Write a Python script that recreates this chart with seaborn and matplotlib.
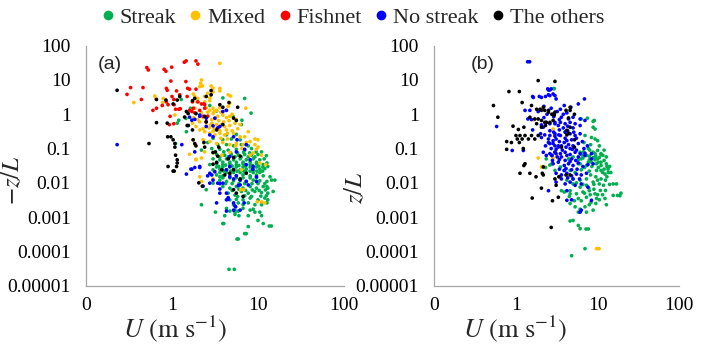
import matplotlib
matplotlib.use("Agg")
import matplotlib.pyplot as plt
import pandas as pd
import seaborn as sns
from matplotlib.lines import Line2D
from matplotlib.ticker import NullLocator

categories = ["Streak", "Mixed", "Fishnet", "No streak", "The others"]
colors = ["#00B050", "#FFC000", "#FF0000", "#0000FF", "#000000"]
x_ticks = [0.1, 1, 10, 100]
x_tick_labels = ["0", "1", "10", "100"]
y_ticks = [1e-5, 1e-4, 1e-3, 1e-2, 1e-1, 1, 10, 100]
y_tick_labels = ["0.00001", "0.0001", "0.001", "0.01", "0.1", "1", "10", "100"]

# ---- panel (a): (U [m/s], -z/L) ----
a_streak = [
    (4.3, 0.25), (5.6, 0.26), (3.9, 0.18), (4.9, 0.19), (6.2, 0.18),
    (3.4, 0.13), (4.3, 0.13), (5.2, 0.12), (6.4, 0.13), (7.7, 0.12),
    (3.6, 0.095), (4.5, 0.09), (5.6, 0.095), (7.0, 0.09), (8.4, 0.1),
    (3.3, 0.067), (4.1, 0.064), (4.9, 0.067), (5.9, 0.064), (7.0, 0.067), (8.4, 0.064), (10, 0.067),
    (3.6, 0.057), (4.5, 0.057), (5.4, 0.057), (6.4, 0.057), (7.7, 0.057), (9.2, 0.057),
    (3.0, 0.05), (3.6, 0.047), (4.3, 0.05), (5.2, 0.047), (6.2, 0.05), (7.3, 0.047), (8.8, 0.05), (10.5, 0.047),
    (3.3, 0.04), (3.9, 0.04), (4.7, 0.04), (5.6, 0.04), (6.7, 0.04), (8.1, 0.04), (9.6, 0.04),
    (2.75, 0.034), (3.3, 0.036), (3.9, 0.034), (4.7, 0.036), (5.6, 0.034), (6.7, 0.036), (8.1, 0.034),
    (9.6, 0.036), (11.5, 0.034),
    (3.3, 0.029), (3.9, 0.029), (4.7, 0.029), (5.6, 0.029), (6.7, 0.029), (8.1, 0.029), (9.6, 0.029), (11.4, 0.029),
    (3.0, 0.024), (3.6, 0.025), (4.3, 0.024), (5.2, 0.025), (6.2, 0.024), (7.3, 0.025), (8.8, 0.024),
    (10.5, 0.025), (12, 0.026),
    (3.6, 0.02), (4.3, 0.02), (5.2, 0.02), (6.2, 0.02), (7.3, 0.02), (8.8, 0.02), (10.5, 0.02),
    (3.3, 0.017), (3.9, 0.016), (4.7, 0.017), (5.6, 0.016), (6.7, 0.017), (8.1, 0.016), (9.6, 0.017), (11.5, 0.016),
    (3.9, 0.014), (4.7, 0.014), (5.6, 0.014), (6.7, 0.014), (8.1, 0.014), (9.6, 0.014),
    (3.6, 0.012), (4.3, 0.011), (5.2, 0.0115), (6.2, 0.012), (7.3, 0.011), (8.8, 0.012), (10.5, 0.0115), (12.7, 0.011),
    (3.9, 0.0078), (4.7, 0.007), (5.6, 0.0078), (6.7, 0.007), (8.1, 0.0078), (9.6, 0.007), (11.5, 0.0078), (13, 0.007),
    (4.5, 0.005), (5.4, 0.0044), (6.4, 0.0056), (7.7, 0.005), (9.2, 0.0056), (11, 0.0052), (13, 0.005), (15, 0.0056),
    (4.7, 0.0032), (5.6, 0.0033), (6.7, 0.0032), (8.1, 0.0036), (10, 0.0032), (12, 0.0036), (13, 0.0032),
    (5.2, 0.0023), (5.9, 0.0026), (6.7, 0.0023), (7.7, 0.0026), (9.2, 0.0023), (11, 0.0023), (12.7, 0.0026),
    (4.3, 0.0018), (4.7, 0.0015), (5.4, 0.0016), (5.9, 0.0015), (6.7, 0.0018), (8.1, 0.0016), (8.8, 0.0017),
    (4.1, 0.0011), (5.4, 0.0012), (6.0, 0.0011), (7.7, 0.0011), (9.2, 0.0014), (10.5, 0.0014), (11, 0.0011),
    (10, 0.0008), (11.5, 0.00065), (7.7, 0.00053), (13.5, 0.00055), (14.3, 0.00055),
    (7.0, 0.00033), (7.3, 0.00033), (5.7, 0.00023), (5.9, 0.00023), (3.9, 0.00065), (4.0, 0.00065),
    (4.6, 0.00003), (5.3, 0.00003), (2.2, 0.0023), (3.2, 0.0014), (5.4, 0.0014),
    (12.7, 0.038), (13, 0.03), (13.8, 0.015), (14.4, 0.012), (12.7, 0.0078), (15.7, 0.012),
    (3.6, 0.015), (3.0, 0.0098), (2.5, 0.0063),
    (7.0, 2.9), (8.3, 1.08), (3.9, 3.0), (3.3, 1.25), (1.2, 0.67), (1.64, 1.5), (2.75, 1.8), (5.1, 0.9),
    (6.5, 0.67), (6.4, 0.5), (1.28, 2.7), (1.45, 0.76), (1.15, 0.55), (1.1, 0.14), (1.47, 0.31),
    (2.6, 0.15), (3.0, 0.2), (2.2, 0.09), (2.9, 0.1),
    (4.0, 0.08), (4.8, 0.075), (5.8, 0.075), (6.8, 0.078), (8.0, 0.075), (9.5, 0.08),
    (3.5, 0.03), (4.2, 0.033), (5.0, 0.031), (6.0, 0.032), (7.2, 0.031), (8.6, 0.032), (10.2, 0.031),
    (4.0, 0.022), (4.8, 0.022), (5.7, 0.022), (6.8, 0.022), (8.1, 0.022), (9.7, 0.022), (11.3, 0.022),
    (4.2, 0.0095), (5.0, 0.0095), (6.0, 0.0095), (7.0, 0.0095), (8.5, 0.0095), (10, 0.0095), (12, 0.0095),
    (5.0, 0.006), (6.0, 0.0065), (7.2, 0.006), (8.6, 0.0062), (10.3, 0.006), (12.2, 0.0062),
    (5.8, 0.004), (7.0, 0.0042), (8.4, 0.004), (10.8, 0.0041), (12.5, 0.0042),
    (11.8, 0.05), (12.5, 0.062), (11.0, 0.08),
]
a_mixed = [
    (0.36, 2.2), (0.63, 3.4), (0.65, 2.8), (0.78, 2.2), (0.79, 2.9), (1.08, 0.95), (3.6, 30.6),
    (2.2, 10), (2.15, 8.0), (2.1, 6.4), (1.77, 3.9), (1.84, 3.3), (2.0, 2.9), (2.4, 2.3), (2.75, 2.5),
    (3.6, 5.7), (3.6, 4.8), (4.5, 3.7), (4.8, 3.4), (7.2, 1.5), (2.2, 0.011), (2.1, 0.015),
    (11, 0.0028), (12, 0.0026), (8.8, 0.074), (9.6, 0.095), (9.2, 0.19), (10, 0.18), (10.5, 0.038),
    (6.4, 0.024), (6.8, 0.0063), (6.3, 0.0063), (9.8, 0.0028), (12.3, 0.034), (1.6, 0.068), (1.9, 0.049),
    (3.0, 0.013),
    (2.25, 6.7), (2.85, 6.7), (3.0, 5.7), (3.0, 4.5), (2.6, 4.1), (2.4, 3.3), (2.75, 3.0), (4.7, 2.1),
    (4.5, 1.7), (1.95, 2.3), (1.7, 1.3), (1.84, 1.5), (1.9, 1.05), (1.77, 0.8),
    (2.5, 1.55), (2.75, 1.3), (3.0, 1.5), (3.3, 1.3), (3.6, 1.55),
    (3.0, 1.05), (3.4, 0.87), (3.9, 0.95), (4.3, 0.8), (4.7, 0.87),
    (2.5, 0.6), (2.9, 0.55), (3.3, 0.5), (3.8, 0.51), (4.1, 0.44), (4.7, 0.47), (5.4, 0.55), (6.2, 0.5),
    (2.1, 0.35), (2.4, 0.31), (2.75, 0.28), (3.15, 0.25), (3.6, 0.28), (4.1, 0.25), (5.2, 0.28),
    (6.2, 0.22), (7.0, 0.22), (7.7, 0.31),
    (2.3, 0.18), (2.75, 0.16), (3.3, 0.14), (3.9, 0.15), (4.7, 0.13), (5.6, 0.14), (6.7, 0.13),
    (8.1, 0.16), (9.2, 0.13), (10, 0.11),
    (2.4, 0.08), (3.0, 0.074), (3.8, 0.064), (4.7, 0.078), (6.2, 0.06), (8.1, 0.064), (11, 0.064),
    (1.73, 0.55), (1.9, 0.44), (2.1, 0.6), (1.77, 0.18), (1.84, 0.13), (2.2, 0.053), (1.9, 0.047),
    (2.3, 0.8), (2.6, 0.9), (2.9, 0.7), (3.2, 0.75), (3.5, 0.65), (4.0, 0.6), (2.7, 0.4), (3.1, 0.38),
    (3.5, 0.42), (4.3, 0.35), (2.5, 0.45), (3.0, 0.32), (3.7, 0.2), (4.4, 0.19), (5.0, 0.33), (5.8, 0.38),
    (2.2, 1.1), (2.6, 1.15), (3.1, 1.2), (3.7, 1.15), (4.2, 1.3), (5.0, 1.0), (5.6, 0.7), (4.6, 0.65),
    (2.8, 0.48), (3.6, 0.33), (4.4, 0.28), (2.0, 0.7), (2.3, 0.38), (5.5, 0.12), (6.5, 0.1), (7.3, 0.15),
]
a_fishnet = [
    (0.51, 23), (0.53, 19.6), (0.81, 20.5), (0.85, 18), (0.99, 23.6), (1.39, 33), (1.46, 36),
    (1.9, 36), (2.0, 29), (0.33, 6.0), (0.46, 6.0), (0.30, 3.8), (0.44, 2.7), (0.97, 9.3), (1.45, 9),
    (0.86, 5.7), (0.88, 5.0), (1.13, 4.8), (1.52, 5.7), (1.6, 5.4), (1.9, 5.4), (1.23, 3.7), (1.0, 3.3),
    (1.05, 2.7), (0.86, 2.3), (0.9, 1.9), (1.06, 1.9), (0.6, 1.3), (0.66, 1.5), (0.77, 1.8), (1.1, 1.4),
    (1.2, 1.4), (1.25, 1.45), (0.95, 0.87), (0.93, 0.5), (1.6, 1.3), (1.77, 1.5), (1.5, 3.3),
    (1.73, 2.3), (2.0, 2.3), (2.2, 2.0), (2.35, 2.0), (2.4, 1.9), (1.7, 1.2), (1.84, 1.1), (2.1, 1.3),
    (2.3, 0.87), (2.4, 1.5), (2.6, 0.87), (2.5, 0.6), (1.05, 0.53),
]
a_nostreak = [
    (0.23, 0.13), (1.3, 0.13), (1.47, 0.018), (1.66, 0.025), (1.84, 0.028), (2.1, 0.028), (2.6, 0.016),
    (2.75, 0.019), (3.0, 0.012), (3.6, 0.0095), (3.6, 0.0066), (4.3, 0.005), (4.5, 0.0037), (3.3, 0.0026),
    (4.3, 0.0032), (5.2, 0.0026), (5.5, 0.002), (5.2, 0.0016), (4.7, 0.015), (5.2, 0.013), (5.6, 0.016),
    (6.2, 0.012), (7.3, 0.011), (7.7, 0.0087), (3.15, 0.021), (4.3, 0.024), (4.7, 0.03), (1.7, 0.67),
    (1.84, 0.71), (2.1, 0.95), (2.5, 0.44), (3.0, 0.46), (3.4, 0.4), (3.9, 1.2), (4.3, 1.3), (5.2, 0.22),
    (5.7, 0.18), (7.3, 0.13), (7.0, 0.095), (8.8, 0.03), (8.7, 0.025), (8.1, 0.047), (9.6, 0.015),
    (9.6, 0.011), (2.3, 0.008), (1.6, 0.82), (1.84, 0.08), (1.7, 0.025), (2.1, 0.03), (2.9, 0.017),
    (2.75, 0.0098), (3.6, 0.005), (3.4, 0.0098), (3.9, 0.0098), (4.5, 0.0033), (5.4, 0.0021),
    (6.2, 0.0016), (4.3, 0.0015), (6.9, 0.0026), (6.2, 0.0087), (5.9, 0.0083), (4.7, 0.058), (5.6, 0.08),
    (7.3, 0.034), (2.1, 0.87), (2.5, 0.77), (3.15, 0.77), (2.75, 0.25), (3.0, 0.22), (3.6, 0.44),
]
a_others = [
    (0.23, 5.0), (0.66, 0.57), (0.54, 0.14), (0.89, 0.22), (0.97, 0.22), (0.9, 0.03), (1.03, 0.022),
    (1.06, 0.022), (1.13, 0.03), (1.03, 0.18), (1.08, 0.14), (1.08, 0.11), (1.1, 0.064), (1.15, 0.047),
    (1.15, 0.038), (1.4, 0.83), (1.5, 0.47), (1.55, 0.47), (1.73, 0.35), (1.76, 0.18), (1.84, 0.14),
    (1.9, 0.12), (2.05, 0.01), (2.25, 0.008), (3.0, 0.035), (3.3, 0.039), (3.4, 0.06), (3.2, 0.08),
    (3.5, 0.11), (3.8, 0.024), (4.1, 0.017), (5.2, 0.0063), (5.6, 0.005), (6.7, 0.004), (6.2, 0.013),
    (7.3, 0.019), (1.15, 2.6), (1.03, 2.0), (1.23, 3.3), (0.85, 2.6), (0.88, 0.55), (0.66, 2.7),
    (1.73, 2.5), (1.84, 2.9), (2.85, 4.9), (2.85, 3.7), (2.5, 3.3), (3.6, 1.9), (3.9, 1.6), (4.6, 2.2),
    (5.8, 1.6), (5.2, 0.77), (5.6, 0.66), (3.3, 0.35), (3.9, 0.5), (2.4, 0.87), (2.5, 0.6), (1.9, 1.05),
    (1.47, 1.2), (1.54, 1.05), (2.35, 0.15), (2.4, 0.11), (3.0, 0.077), (4.5, 0.05), (5.2, 0.055),
    (6.2, 0.06), (4.7, 0.019), (5.2, 0.024),
]

# ---- panel (b): (U [m/s], z/L) ----
b_streak = [
    (2.9, 5.6), (2.95, 5.6), (6.3, 0.73), (7.5, 0.77), (9.1, 0.66), (9.3, 0.37), (8.8, 0.62), (4.0, 0.31),
    (7.0, 0.24), (8.4, 0.21), (9.3, 0.19), (10, 0.17), (10.5, 0.12), (8.8, 0.42),
    (7.7, 0.1), (8.8, 0.078), (10, 0.088), (11, 0.071), (11.6, 0.063), (7.0, 0.063), (6.3, 0.05),
    (6.1, 0.078), (7.3, 0.063), (9.3, 0.071), (11, 0.067), (12.8, 0.057),
    (6.1, 0.036), (7.3, 0.032), (8.4, 0.04), (9.7, 0.036), (11, 0.032), (12.8, 0.036), (13.4, 0.025),
    (12.3, 0.018), (11, 0.023),
    (3.5, 0.015), (4.2, 0.012), (5.0, 0.013), (6.1, 0.012), (7.3, 0.013), (8.8, 0.0105), (10.5, 0.0093),
    (5.0, 0.0093), (6.1, 0.0075), (7.3, 0.0085),
    (15.5, 0.0093), (17, 0.0093), (15.5, 0.0043), (17.5, 0.0043), (19.3, 0.005), (18.7, 0.0042),
    (12.3, 0.0035), (12.8, 0.0023), (9.7, 0.0035), (10.5, 0.0032),
    (3.9, 0.0054), (4.6, 0.0059), (5.5, 0.0048), (6.6, 0.0054), (7.9, 0.0059), (9.3, 0.0048), (7.3, 0.0038),
    (4.6, 0.0025), (5.3, 0.002), (6.1, 0.0017), (7.0, 0.002), (7.9, 0.0023), (8.8, 0.0016), (7.3, 0.0014),
    (5.8, 0.0014),
    (4.6, 0.00077), (5.0, 0.0008), (5.8, 0.00057), (6.1, 0.00046), (7.2, 0.00045), (7.7, 0.00045),
    (7.0, 0.00012), (4.8, 0.000075),
    (2.35, 0.05), (2.75, 0.036), (3.0, 0.023), (3.5, 0.029), (3.9, 0.023), (3.6, 0.0059), (4.6, 0.0048),
    (5.8, 0.0035),
    (4.6, 0.023), (5.3, 0.02), (6.3, 0.024), (7.9, 0.022), (9.7, 0.023),
    (4.4, 0.05), (5.0, 0.057), (5.8, 0.047), (6.6, 0.053), (7.9, 0.047), (10, 0.05),
    (7.7, 0.04), (9.3, 0.047), (11, 0.04), (5.8, 0.036), (2.3, 0.028), (2.6, 0.033),
    (6.7, 0.08), (8.0, 0.09), (9.5, 0.06), (10.5, 0.055), (12, 0.045), (13, 0.03), (6.9, 0.028),
    (8.5, 0.03), (10.2, 0.028), (11.5, 0.02), (8.2, 0.017), (9.5, 0.015), (11, 0.013), (12.5, 0.012),
    (13.5, 0.02), (14, 0.03), (12, 0.09), (6.8, 0.15), (8.2, 0.13), (5.5, 0.01), (6.6, 0.009),
    (7.8, 0.007), (9.0, 0.0065), (10.8, 0.006), (11.5, 0.0045), (8.3, 0.0027), (9.5, 0.0025),
    (6.3, 0.003), (5.2, 0.003), (4.5, 0.004),
    (6.4, 0.065), (7.9, 0.06), (8.9, 0.055), (10.2, 0.04), (12, 0.025), (14.5, 0.02), (13, 0.015),
    (10, 0.012), (9.0, 0.009), (11.8, 0.0085), (14, 0.009), (8.1, 0.0045), (10, 0.0045), (6.9, 0.005),
    (12.5, 0.006),
]
b_mixed = [
    (1.67, 0.69), (2.85, 0.37), (1.87, 0.053), (2.85, 0.053), (2.05, 0.029), (2.16, 0.03),
    (9.7, 0.00012), (10.4, 0.00012),
]
b_fishnet = []
b_nostreak = [
    (1.39, 34), (1.47, 34), (0.58, 0.44), (0.9, 0.088), (1.23, 0.088), (1.6, 0.35), (1.6, 3.3),
    (1.93, 3.3), (2.3, 3.3), (2.5, 5.1), (2.6, 5.1),
    (6.9, 2.8), (5.8, 2.0), (4.7, 1.6), (3.9, 1.8), (3.5, 1.4),
    (2.45, 5.5), (2.7, 5.5), (2.5, 3.7), (2.85, 3.9), (3.1, 2.8),
    (1.63, 3.1), (2.05, 3.1), (2.6, 3.5), (3.0, 3.5),
    (1.48, 1.3), (1.29, 1.3), (1.87, 1.2), (1.4, 0.73), (1.55, 0.7),
    (2.05, 0.49), (2.16, 0.42), (2.35, 0.58), (2.6, 0.53), (3.0, 0.53), (3.3, 0.47),
    (2.0, 0.27), (2.25, 0.25), (2.6, 0.24), (3.0, 0.23), (3.35, 0.25), (2.05, 0.21), (2.5, 0.19),
    (2.85, 0.17), (3.1, 0.19), (2.6, 0.14), (3.0, 0.12), (3.3, 0.11),
    (2.16, 0.078), (2.35, 0.063), (2.75, 0.063), (3.0, 0.078), (3.2, 0.057),
    (3.0, 0.58), (3.5, 0.58), (4.0, 0.53), (4.6, 0.58), (5.3, 0.53), (6.1, 0.47),
    (3.6, 0.82), (4.4, 0.73), (5.0, 0.82), (6.1, 0.73), (7.0, 0.66),
    (2.6, 0.33), (3.0, 0.27), (3.5, 0.24), (4.0, 0.3), (4.6, 0.27), (5.3, 0.24), (6.1, 0.27),
    (2.5, 0.15), (2.85, 0.14), (3.3, 0.12), (3.9, 0.15), (4.4, 0.13), (5.0, 0.12), (5.8, 0.14),
    (2.75, 0.063), (3.1, 0.071), (3.6, 0.057), (4.2, 0.063), (4.8, 0.05), (5.8, 0.057), (7.0, 0.063),
    (8.4, 0.05),
    (2.6, 0.071), (3.0, 0.078), (3.5, 0.071), (4.0, 0.078), (4.6, 0.067), (5.3, 0.078), (6.1, 0.071),
    (7.0, 0.073), (8.4, 0.071),
    (2.85, 0.036), (3.3, 0.04), (3.9, 0.032), (4.4, 0.036), (5.0, 0.032), (5.8, 0.038), (6.6, 0.03),
    (7.6, 0.034), (8.8, 0.036),
    (3.1, 0.019), (3.6, 0.017), (4.2, 0.019), (4.8, 0.016), (5.5, 0.018), (6.3, 0.017), (7.3, 0.019),
    (3.1, 0.0105), (4.0, 0.0093), (4.6, 0.0105), (5.3, 0.0085), (6.3, 0.0093), (7.6, 0.0075),
    (2.5, 0.0059), (4.2, 0.0031), (4.8, 0.0032), (6.1, 0.0014), (6.3, 0.0016), (8.4, 0.0031),
    (4.2, 0.0059), (3.9, 0.023),
    (2.2, 1.7), (2.7, 1.5), (3.2, 1.2), (3.8, 1.0), (4.2, 1.1), (2.4, 1.0), (2.9, 0.85), (2.2, 0.8),
    (3.4, 0.7), (3.8, 0.4), (4.3, 0.45), (5.0, 0.4), (4.0, 0.2), (4.8, 0.18), (5.5, 0.2), (6.5, 0.16),
    (7.5, 0.12), (6.8, 0.1), (5.5, 0.09), (4.6, 0.1), (3.7, 0.09),
    (2.3, 0.12), (2.7, 0.1), (3.1, 0.095), (3.6, 0.12), (4.1, 0.11), (4.9, 0.095), (3.4, 0.16),
    (4.2, 0.17), (2.9, 0.3), (3.4, 0.35), (4.3, 0.33), (5.1, 0.3), (2.8, 0.045), (3.4, 0.048),
    (4.0, 0.045), (4.6, 0.042), (5.4, 0.045), (3.4, 0.025), (4.1, 0.026), (4.8, 0.024), (5.6, 0.025),
    (3.6, 0.013), (4.3, 0.014), (5.0, 0.013), (6.0, 0.013),
]
b_others = [
    (1.87, 9.6), (3.0, 9.1), (0.82, 4.6), (1.1, 4.6), (0.53, 1.8), (0.6, 0.82),
    (1.19, 2.2), (1.55, 1.8), (1.79, 1.4), (1.97, 1.4), (2.05, 1.3), (2.16, 1.6), (2.5, 1.3), (2.75, 1.0),
    (3.0, 1.15), (1.48, 0.82), (1.7, 0.73), (1.87, 0.73), (2.05, 0.66), (2.25, 0.58), (2.6, 0.58),
    (2.85, 0.66), (0.92, 0.45), (1.07, 0.36), (1.25, 0.42), (1.79, 0.53), (2.05, 0.42), (2.3, 0.47),
    (1.0, 0.24), (1.04, 0.19), (1.12, 0.24), (1.19, 0.19), (1.29, 0.24), (1.42, 0.19), (1.55, 0.24),
    (1.7, 0.19), (1.87, 0.24), (0.77, 0.16), (0.88, 0.15), (1.1, 0.15), (1.23, 0.1), (0.77, 0.095),
    (1.29, 0.036), (1.25, 0.032), (1.12, 0.019), (1.48, 0.019), (1.76, 0.015), (2.1, 0.019),
    (2.16, 0.017), (2.16, 0.029), (3.0, 0.013), (3.1, 0.0085), (3.35, 0.015), (2.05, 0.007),
    (1.58, 0.0036), (2.8, 0.003), (2.7, 0.0005), (3.3, 0.0038), (5.2, 0.18), (5.2, 0.11),
    (4.1, 0.017), (4.6, 0.017), (4.6, 1.6), (4.6, 1.3), (4.1, 1.3), (4.4, 0.78), (4.6, 0.42),
    (4.2, 0.34), (2.25, 1.3), (2.5, 1.15), (2.85, 1.0), (2.95, 0.95), (2.35, 0.58), (5.2, 1.0),
    (3.6, 0.11), (4.2, 0.25), (4.4, 0.28),
]

panel_a = [a_streak, a_mixed, a_fishnet, a_nostreak, a_others]
panel_b = [b_streak, b_mixed, b_fishnet, b_nostreak, b_others]


def to_frame(groups):
    rows = []
    for cat, pts in zip(categories, groups):
        for u, zl in pts:
            rows.append({"U": u, "zL": zl, "type": cat})
    return pd.DataFrame(rows)


sns.set_theme(style="white")
plt.rcParams["font.family"] = ["Liberation Serif", "DejaVu Serif"]
plt.rcParams["mathtext.fontset"] = "stix"

fig = plt.figure(figsize=(7.06, 3.46), dpi=100)
W, H = 706.0, 346.0
ax_a = fig.add_axes([86 / W, 1 - 285.7 / H, 258 / W, 240 / H])
ax_b = fig.add_axes([434.3 / W, 1 - 285.7 / H, 245 / W, 240 / H])

palette = dict(zip(categories, colors))
grey = "#A6A6A6"

for ax, groups, ylab, lab, labx, ylc, xlc in [
    (ax_a, panel_a, r"$-z/L$", "(a)", 0.045, (-0.24, 0.438), (0.345, -0.118)),
    (ax_b, panel_b, r"$z/L$", "(b)", 0.148, (-0.272, 0.41), (0.328, -0.118)),
]:
    df = to_frame(groups)
    sns.scatterplot(data=df, x="U", y="zL", hue="type", hue_order=categories, palette=palette,
                    s=7, linewidth=0, legend=False, ax=ax, zorder=3)
    ax.set_xscale("log")
    ax.set_yscale("log")
    ax.set_xlim(0.1, 100)
    ax.set_ylim(1e-5, 100)
    ax.set_xticks(x_ticks)
    ax.set_xticklabels(x_tick_labels)
    ax.set_yticks(y_ticks)
    ax.set_yticklabels(y_tick_labels)
    ax.xaxis.set_minor_locator(NullLocator())
    ax.yaxis.set_minor_locator(NullLocator())
    for s in ["top", "right"]:
        ax.spines[s].set_visible(False)
    for s in ["left", "bottom"]:
        ax.spines[s].set_color(grey)
        ax.spines[s].set_linewidth(0.9)
    ax.tick_params(axis="both", which="major", direction="out", length=4, width=0.9,
                   color=grey, labelsize=14, labelcolor="black")
    ax.tick_params(axis="y", pad=7)
    ax.tick_params(axis="x", pad=4)
    ax.set_xlabel(r"$U\ (\mathrm{m\ s^{-1}})$", fontsize=19)
    ax.set_ylabel(ylab, fontsize=18)
    ax.xaxis.set_label_coords(*xlc)
    ax.yaxis.set_label_coords(*ylc)
    ax.text(labx, 0.92, lab, transform=ax.transAxes,
            fontsize=14, family=["Liberation Sans", "DejaVu Sans"], va="center", ha="left")

handles = [Line2D([], [], marker="o", ls="", color=c, markersize=7, markeredgewidth=0) for c in colors]
fig.legend(handles, categories, loc="upper center", bbox_to_anchor=(0.498, 1.01), ncol=5,
           frameon=False, fontsize=16, handletextpad=0.15, columnspacing=0.45, handlelength=0.8,
           borderaxespad=0.1)

fig.savefig("out.png", dpi=100)
